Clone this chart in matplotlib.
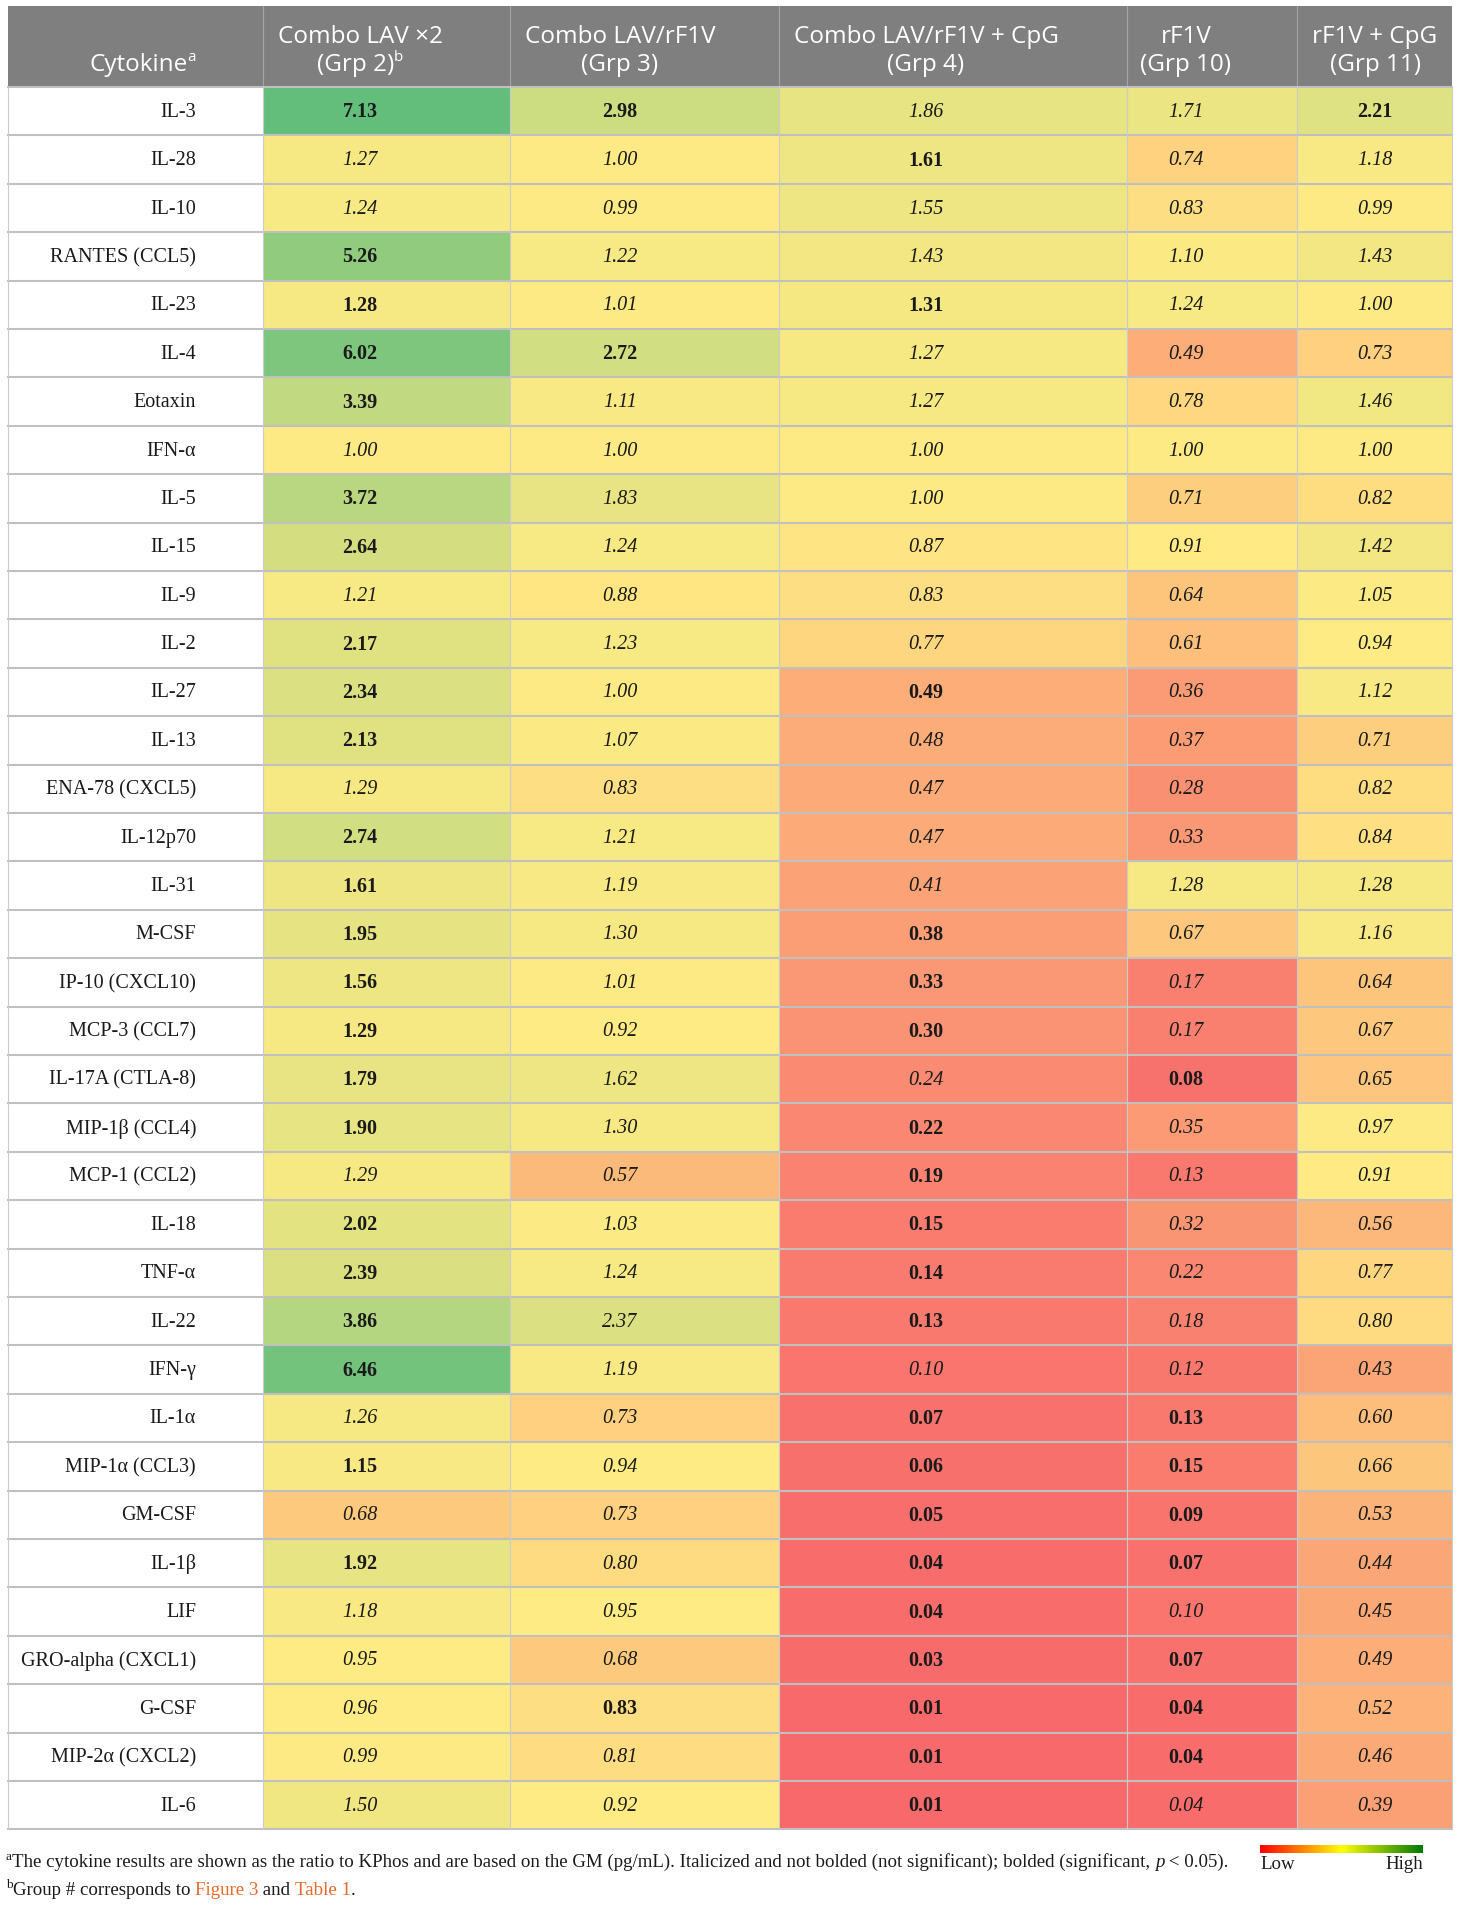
import numpy as np
import matplotlib
matplotlib.use("Agg")
import matplotlib.pyplot as plt
from matplotlib.patches import Rectangle
from matplotlib.colors import LinearSegmentedColormap, TwoSlopeNorm

cytokines = ["IL-3", "IL-28", "IL-10", "RANTES (CCL5)", "IL-23", "IL-4", "Eotaxin", "IFN-α",
             "IL-5", "IL-15", "IL-9", "IL-2", "IL-27", "IL-13", "ENA-78 (CXCL5)", "IL-12p70",
             "IL-31", "M-CSF", "IP-10 (CXCL10)", "MCP-3 (CCL7)", "IL-17A (CTLA-8)", "MIP-1β (CCL4)",
             "MCP-1 (CCL2)", "IL-18", "TNF-α", "IL-22", "IFN-γ", "IL-1α", "MIP-1α (CCL3)", "GM-CSF",
             "IL-1β", "LIF", "GRO-alpha (CXCL1)", "G-CSF", "MIP-2α (CXCL2)", "IL-6"]

header_line1 = ["Combo LAV ×2", "Combo LAV/rF1V", "Combo LAV/rF1V + CpG", "rF1V", "rF1V + CpG"]
header_line2 = ["(Grp 2)", "(Grp 3)", "(Grp 4)", "(Grp 10)", "(Grp 11)"]

# ratio to KPhos
grp2 = [7.13, 1.27, 1.24, 5.26, 1.28, 6.02, 3.39, 1.00, 3.72, 2.64, 1.21, 2.17, 2.34, 2.13, 1.29, 2.74,
        1.61, 1.95, 1.56, 1.29, 1.79, 1.90, 1.29, 2.02, 2.39, 3.86, 6.46, 1.26, 1.15, 0.68, 1.92, 1.18,
        0.95, 0.96, 0.99, 1.50]
grp3 = [2.98, 1.00, 0.99, 1.22, 1.01, 2.72, 1.11, 1.00, 1.83, 1.24, 0.88, 1.23, 1.00, 1.07, 0.83, 1.21,
        1.19, 1.30, 1.01, 0.92, 1.62, 1.30, 0.57, 1.03, 1.24, 2.37, 1.19, 0.73, 0.94, 0.73, 0.80, 0.95,
        0.68, 0.83, 0.81, 0.92]
grp4 = [1.86, 1.61, 1.55, 1.43, 1.31, 1.27, 1.27, 1.00, 1.00, 0.87, 0.83, 0.77, 0.49, 0.48, 0.47, 0.47,
        0.41, 0.38, 0.33, 0.30, 0.24, 0.22, 0.19, 0.15, 0.14, 0.13, 0.10, 0.07, 0.06, 0.05, 0.04, 0.04,
        0.03, 0.01, 0.01, 0.01]
grp10 = [1.71, 0.74, 0.83, 1.10, 1.24, 0.49, 0.78, 1.00, 0.71, 0.91, 0.64, 0.61, 0.36, 0.37, 0.28, 0.33,
         1.28, 0.67, 0.17, 0.17, 0.08, 0.35, 0.13, 0.32, 0.22, 0.18, 0.12, 0.13, 0.15, 0.09, 0.07, 0.10,
         0.07, 0.04, 0.04, 0.04]
grp11 = [2.21, 1.18, 0.99, 1.43, 1.00, 0.73, 1.46, 1.00, 0.82, 1.42, 1.05, 0.94, 1.12, 0.71, 0.82, 0.84,
         1.28, 1.16, 0.64, 0.67, 0.65, 0.97, 0.91, 0.56, 0.77, 0.80, 0.43, 0.60, 0.66, 0.53, 0.44, 0.45,
         0.49, 0.52, 0.46, 0.39]

# 1 = bold (significant), 0 = italic (not significant)
sig2 = [1, 0, 0, 1, 1, 1, 1, 0, 1, 1, 0, 1, 1, 1, 0, 1, 1, 1, 1, 1, 1, 1, 0, 1, 1, 1, 1, 0, 1, 0, 1, 0, 0, 0, 0, 0]
sig3 = [1, 0, 0, 0, 0, 1, 0, 0, 0, 0, 0, 0, 0, 0, 0, 0, 0, 0, 0, 0, 0, 0, 0, 0, 0, 0, 0, 0, 0, 0, 0, 0, 0, 1, 0, 0]
sig4 = [0, 1, 0, 0, 1, 0, 0, 0, 0, 0, 0, 0, 1, 0, 0, 0, 0, 1, 1, 1, 0, 1, 1, 1, 1, 1, 0, 1, 1, 1, 1, 1, 1, 1, 1, 1]
sig10 = [0, 0, 0, 0, 0, 0, 0, 0, 0, 0, 0, 0, 0, 0, 0, 0, 0, 0, 0, 0, 1, 0, 0, 0, 0, 0, 0, 1, 1, 1, 1, 0, 1, 1, 1, 0]
sig11 = [1, 0, 0, 0, 0, 0, 0, 0, 0, 0, 0, 0, 0, 0, 0, 0, 0, 0, 0, 0, 0, 0, 0, 0, 0, 0, 0, 0, 0, 0, 0, 0, 0, 0, 0, 0]

values = np.column_stack([grp2, grp3, grp4, grp10, grp11])
sig = np.column_stack([sig2, sig3, sig4, sig10, sig11])

SERIF = "Liberation Serif"
SANS = "Open Sans"
ORANGE = "#E8692A"

W, H = 1460, 1908
fig = plt.figure(figsize=(W / 100, H / 100), dpi=100)
ax = fig.add_axes([0, 0, 1, 1])
ax.set_xlim(0, W)
ax.set_ylim(H, 0)
ax.axis("off")
renderer = fig.canvas.get_renderer()

col_edges = np.array([8, 263, 510, 779, 1127, 1297, 1452])
text_x = [360, 620, 926, 1186, 1375]
name_x = 196
head_top, head_bot = 7, 88
row_h = 48.4
n = len(cytokines)
row_edges = head_bot + row_h * np.arange(n + 1)
row_mid = (row_edges[:-1] + row_edges[1:]) / 2


def text_w(s, **kw):
    # width of s incl. trailing spaces (sentinel trick)
    t1 = ax.text(0, 0, s + "|", **kw)
    t2 = ax.text(0, 0, "|", **kw)
    w = t1.get_window_extent(renderer).width - t2.get_window_extent(renderer).width
    t1.remove()
    t2.remove()
    return w


def draw_runs(x, y, runs, ha="left"):
    widths = [text_w(s, **kw) for s, kw, dy in runs]
    total = sum(widths)
    if ha == "right":
        x -= total
    elif ha == "center":
        x -= total / 2
    for (s, kw, dy), w in zip(runs, widths):
        ax.text(x, y + dy, s, va="baseline", ha="left", **kw)
        x += w


# heat-map cells: Excel style 3-colour scale (min / 50th percentile / max over the whole table)
cmap = LinearSegmentedColormap.from_list("excel3", ["#F8696B", "#FFEB84", "#63BE7B"])
norm = TwoSlopeNorm(vmin=values.min(), vcenter=np.percentile(values, 50), vmax=values.max())
ax.pcolormesh(col_edges[1:], row_edges, values, cmap=cmap, norm=norm, shading="flat", zorder=1)

# header
ax.add_patch(Rectangle((col_edges[0], head_top), col_edges[-1] - col_edges[0], head_bot - head_top,
                       facecolor="#7F7F7F", edgecolor="none", zorder=2))
for xe in col_edges[1:-1]:
    ax.plot([xe, xe], [head_top, head_bot], color="#A5A5A5", lw=0.8, zorder=3)

hkw = dict(family=SANS, fontsize=17.5, color="white", zorder=4)
skw = dict(family=SANS, fontsize=11, color="white", zorder=4)
base1, base2 = 43, 71
draw_runs(name_x, base2, [("Cytokine", hkw, 0), ("a", skw, -10)], ha="right")
for j in range(5):
    ax.text(text_x[j], base1, header_line1[j], ha="center", va="baseline", **hkw)
    if j == 0:
        draw_runs(text_x[j], base2, [(header_line2[j], hkw, 0), ("b", skw, -10)], ha="center")
    else:
        ax.text(text_x[j], base2, header_line2[j], ha="center", va="baseline", **hkw)

# grid lines
for y in row_edges:
    ax.plot([col_edges[0], col_edges[-1]], [y, y], color="#C0C0C0", lw=1.5, zorder=3)
for xe in col_edges:
    ax.plot([xe, xe], [head_bot, row_edges[-1]], color="#CBCBCB", lw=0.8, zorder=3)

# body text
for i, name in enumerate(cytokines):
    y = row_mid[i]
    ax.text(name_x, y, name, ha="right", va="center", family=SERIF, fontsize=14.5, color="#1A1A1A", zorder=4)
    for j in range(5):
        bold = sig[i, j] == 1
        ax.text(text_x[j], y, f"{values[i, j]:.2f}", ha="center", va="center", family=SERIF,
                fontsize=14.5, color="#1A1A1A", zorder=4,
                fontweight="bold" if bold else "normal",
                fontstyle="normal" if bold else "italic")

# footnotes
fkw = dict(family=SERIF, fontsize=13.6, color="#1A1A1A")
fskw = dict(family=SERIF, fontsize=9.5, color="#1A1A1A")
fikw = dict(family=SERIF, fontsize=13.6, color="#1A1A1A", fontstyle="italic")
draw_runs(6, 1867, [
    ("a", fskw, -7),
    ("The cytokine results are shown as the ratio to KPhos and are based on the GM (pg/mL). "
     "Italicized and not bolded (not significant); bolded (significant, ", fkw, 0),
    ("p", fikw, 0),
    (" < 0.05).", fkw, 0),
])
draw_runs(6, 1895, [
    ("b", fskw, -7),
    ("Group # corresponds to ", fkw, 0),
    ("Figure 3", dict(fkw, color=ORANGE), 0),
    (" and ", fkw, 0),
    ("Table 1", dict(fkw, color=ORANGE), 0),
    (".", fkw, 0),
])

# Low / High colour key
key_cmap = LinearSegmentedColormap.from_list("key", ["#FF0000", "#FFFF00", "#007A00"])
ax.imshow(np.linspace(0, 1, 256)[None, :], cmap=key_cmap, aspect="auto",
          extent=[1260, 1423, 1854, 1846], zorder=2)
ax.text(1260, 1869, "Low", ha="left", va="baseline", **fkw)
ax.text(1423, 1869, "High", ha="right", va="baseline", **fkw)

ax.set_xlim(0, W)
ax.set_ylim(H, 0)
fig.savefig("out.png", dpi=100)
